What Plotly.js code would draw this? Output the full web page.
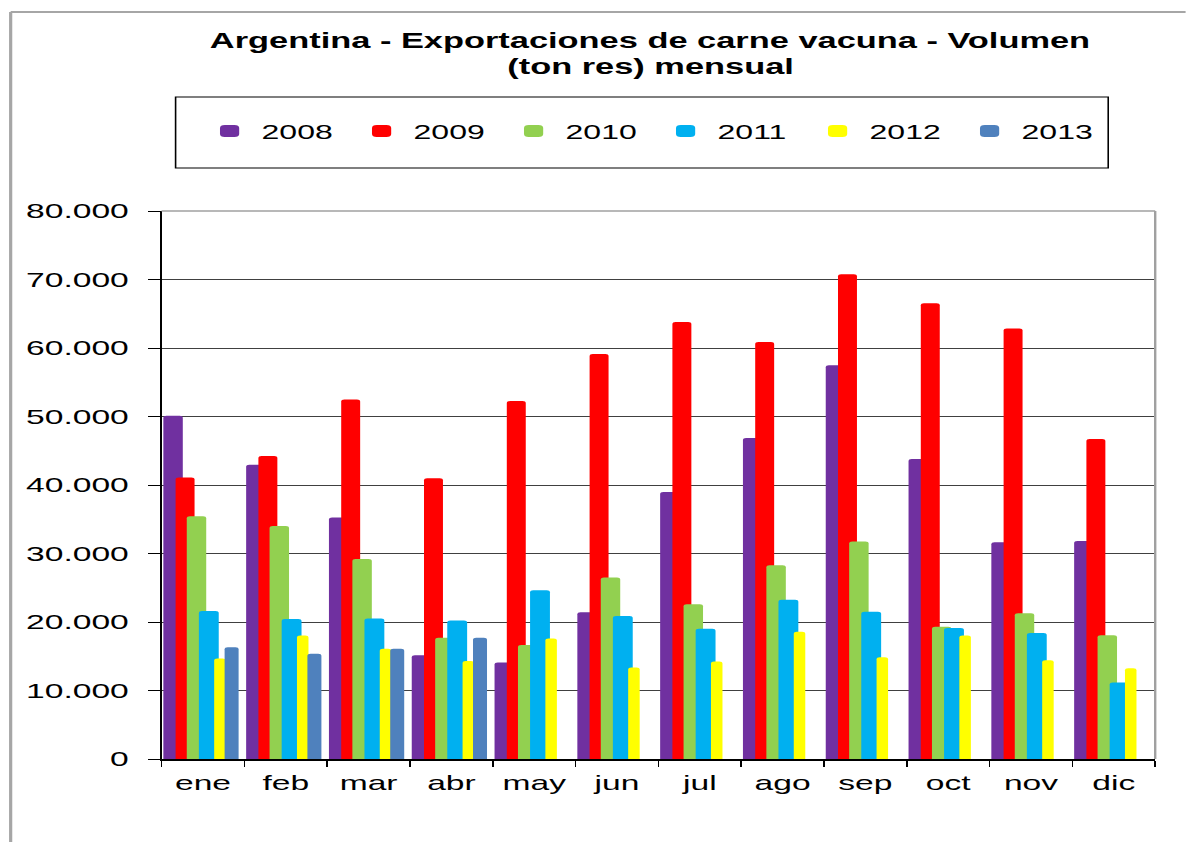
<!DOCTYPE html>
<html>
<head>
<meta charset="utf-8">
<script src="https://cdn.plot.ly/plotly-3.0.1.min.js"></script>
<style>
  html, body { margin: 0; padding: 0; background: #ffffff; }
  #wrap { position: relative; width: 1186px; height: 842px; overflow: hidden; background: #fff; }
  #chart { position: absolute; left: 0; top: 0; transform-origin: 0 0; }
</style>
</head>
<body>
<div id="wrap"><div id="chart"></div></div>
<script>
// ---- data ----
const months = ['ene','feb','mar','abr','may','jun','jul','ago','sep','oct','nov','dic'];
const years = ['2008','2009','2010','2011','2012','2013'];
const v2008 = [50100, 42970, 35270, 15160, 14070, 21430, 38960, 46870, 57470, 43790, 31650, 31810];
const v2009 = [41100, 44230, 52470, 40990, 52250, 59120, 63790, 60880, 70770, 66540, 62860, 46700];
const v2010 = [35440, 34010, 29180, 17690, 16650, 26480, 22580, 28300, 31760, 19290, 21260, 18080];
const v2011 = [21600, 20440, 20500, 20220, 24620, 20880, 19010, 23240, 21480, 19120, 18410, 11150];
const v2012 = [14670, 18020, 16100, 14290, 17580, 13350, 14230, 18570, 14840, 18020, 14400, 13240];
const v2013 = [16320, 15380, 16100, 17690, null, null, null, null, null, null, null, null];
const yTicks = [0, 10000, 20000, 30000, 40000, 50000, 60000, 70000, 80000];

// ---- styles ----
const seriesValues = [v2008, v2009, v2010, v2011, v2012, v2013];
const colors = ['#7030A0', '#FF0000', '#92D050', '#00B0F0', '#FFFF00', '#4F81BD'];
const offsets = [-0.479, -0.331, -0.196, -0.050, 0.135, 0.261];
const widths  = [0.235, 0.229, 0.235, 0.240, 0.139, 0.169];

const S = 1.6;               // horizontal stretch of the reference picture
const W = 1186 / S;
document.getElementById('chart').style.transform = 'scaleX(' + S + ')';

// reference-pixel -> paper helpers (plot area 161..1155 x, 211..759 y)
const px = x => (x - 161) / 994;
const py = y => (759 - y) / 548;

const FONT = 'Liberation Sans, Arial, sans-serif';

const traces = years.map((yr, i) => ({
  type: 'bar',
  name: yr,
  x: months,
  y: seriesValues[i],
  offset: offsets[i],
  width: widths[i],
  marker: { color: colors[i], line: { width: 0 }, cornerradius: 2 },
  hoverinfo: 'skip'
}));

const shapes = [
  // outer chart-area border (left and top)
  { type: 'line', xref: 'paper', yref: 'paper', x0: px(10), x1: px(10), y0: py(842), y1: py(12),
    line: { color: '#A6A6A6', width: 2 } },
  { type: 'line', xref: 'paper', yref: 'paper', x0: px(10), x1: px(1200), y0: py(12), y1: py(12),
    line: { color: '#A6A6A6', width: 2 } },
  // plot area top and right border
  { type: 'line', xref: 'paper', yref: 'paper', x0: 0, x1: 1, y0: 1, y1: 1,
    line: { color: '#A0A0A0', width: 1.5 } },
  { type: 'line', xref: 'paper', yref: 'paper', x0: 1, x1: 1, y0: 0, y1: 1,
    line: { color: '#A0A0A0', width: 1.5 } },
  // legend box
  { type: 'rect', xref: 'paper', yref: 'paper', x0: px(175), x1: px(1108), y0: py(168), y1: py(97),
    line: { color: '#000000', width: 1 }, fillcolor: 'rgba(0,0,0,0)' }
];

const layout = {
  width: W,
  height: 842,
  autosize: false,
  paper_bgcolor: '#ffffff',
  plot_bgcolor: '#ffffff',
  margin: { l: 161 / S, r: 31 / S, t: 211, b: 83, pad: 0 },
  barmode: 'overlay',
  separators: ',.',
  font: { family: FONT, color: '#000000' },
  title: {
    text: 'Argentina - Exportaciones de carne vacuna - Volumen',
    xref: 'container', yref: 'container',
    x: 650 / 1186, xanchor: 'center',
    y: 1 - 40 / 842, yanchor: 'middle',
    font: { family: FONT, size: 21.5, weight: 'bold', color: '#000000' }
  },
  annotations: [
    { text: '(ton res) mensual', xref: 'paper', yref: 'paper', x: px(650), y: py(67.5),
      xanchor: 'center', yanchor: 'middle', showarrow: false,
      font: { family: FONT, size: 21.5, weight: 'bold', color: '#000000' } }
  ],
  showlegend: true,
  legend: {
    orientation: 'h',
    xref: 'paper', yref: 'paper',
    x: px(197), xanchor: 'left',
    y: py(131), yanchor: 'middle',
    bgcolor: 'rgba(0,0,0,0)',
    borderwidth: 0,
    traceorder: 'normal',
    entrywidth: 50,
    font: { family: FONT, size: 20, color: '#000000' }
  },
  xaxis: {
    type: 'category',
    categoryorder: 'array',
    categoryarray: months,
    range: [-0.5, 11.5],
    showline: true, linecolor: '#000000', linewidth: 2,
    ticks: 'outside', tickson: 'boundaries', ticklen: 6, tickcolor: '#000000', tickwidth: 1,
    ticklabelstandoff: 4,
    showgrid: false, zeroline: false,
    tickfont: { family: FONT, size: 21, color: '#000000' },
    fixedrange: true
  },
  yaxis: {
    range: [0, 80000],
    tickvals: yTicks,
    tickformat: ',d',
    showline: true, linecolor: '#000000', linewidth: 1.3,
    ticks: 'outside', ticklen: 7, tickcolor: '#000000', tickwidth: 1,
    ticklabelstandoff: 8,
    showgrid: true, gridcolor: '#404040', gridwidth: 1,
    zeroline: false,
    tickfont: { family: FONT, size: 21, color: '#000000' },
    fixedrange: true
  },
  shapes: shapes
};

Plotly.newPlot('chart', traces, layout, { displayModeBar: false, staticPlot: true });
</script>
</body>
</html>
